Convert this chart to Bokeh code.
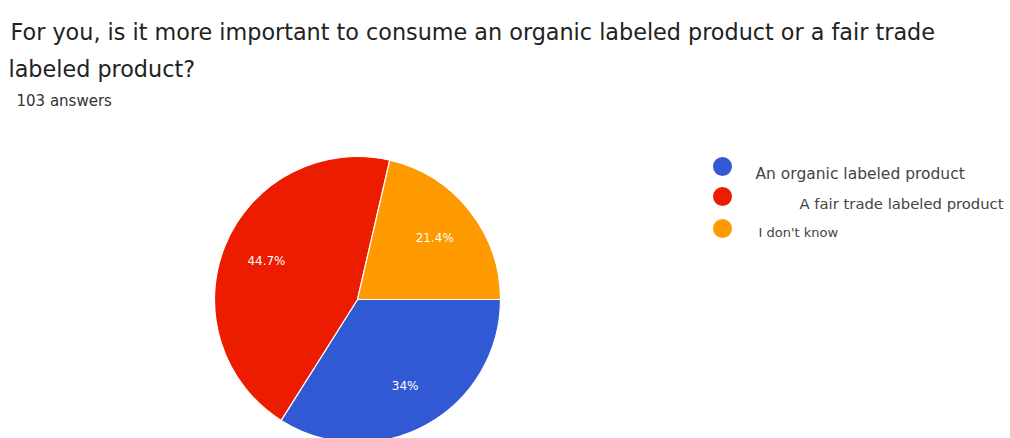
import math
from bokeh.plotting import figure
from bokeh.models import Range1d
from bokeh.core.properties import value
from bokeh.embed import file_html
from bokeh.resources import INLINE

title_lines = ["For you, is it more important to consume an organic labeled product or a fair trade",
               "labeled product?"]
subtitle = "103 answers"
categories = ["An organic labeled product", "A fair trade labeled product", "I don't know"]
percents = [34.0, 44.7, 21.4]
pct_labels = ["34%", "44.7%", "21.4%"]
colors = ["#3159D3", "#EB1C00", "#FF9900"]

W, H = 1010, 438
FONT = value("DejaVu Sans")
p = figure(width=W, height=H, output_backend="svg", toolbar_location=None,
           x_range=Range1d(0, W), y_range=Range1d(0, H), min_border=0)
p.axis.visible = False
p.grid.visible = False
p.outline_line_color = None
p.background_fill_color = "white"
p.border_fill_color = "white"

def sy(y):  # screen y -> data y
    return H - y
def sx(x):
    return x

# Pie
cx, cy, r = sx(357), sy(299), 143
total = sum(percents)
starts, ends, mids = [], [], []
cum = 0.0
for v in percents:
    a0 = -2 * math.pi * cum / total
    cum += v
    a1 = -2 * math.pi * cum / total
    starts.append(a0)
    ends.append(a1)
    mids.append((a0 + a1) / 2)

p.wedge(x=[cx] * 3, y=[cy] * 3, radius=r, start_angle=starts, end_angle=ends,
        direction="clock", fill_color=colors, line_color="white", line_width=1.2)

k = 0.69
lx = [cx + k * r * math.cos(m) for m in mids]
ly = [cy + k * r * math.sin(m) for m in mids]
p.text(x=lx, y=ly, text=pct_labels, text_color="white", text_font=FONT,
       text_font_size="12px", text_align="center", text_baseline="middle")

# Title
p.text(x=[sx(10), sx(8)], y=[sy(31), sy(68)], text=title_lines, text_color="#222222",
       text_font=FONT, text_font_size="22.3px", text_baseline="alphabetic")
p.text(x=[sx(16)], y=[sy(100)], text=[subtitle], text_color="#333333",
       text_font=FONT, text_font_size="15px", text_baseline="alphabetic")

# Legend
leg_y = [sy(166), sy(196), sy(228)]
p.scatter(x=[sx(722)] * 3, y=leg_y, size=19, marker="circle", fill_color=colors, line_color=None)
p.text(x=[sx(755)], y=[sy(173)], text=[categories[0]], text_color="#444444",
       text_font=FONT, text_font_size="15.5px", text_baseline="alphabetic")
p.text(x=[sx(799)], y=[sy(203)], text=[categories[1]], text_color="#444444",
       text_font=FONT, text_font_size="14.8px", text_baseline="alphabetic")
p.text(x=[sx(758)], y=[sy(232)], text=[categories[2]], text_color="#444444",
       text_font=FONT, text_font_size="13px", text_baseline="alphabetic")

open("out.html", "w").write(file_html(p, INLINE))
